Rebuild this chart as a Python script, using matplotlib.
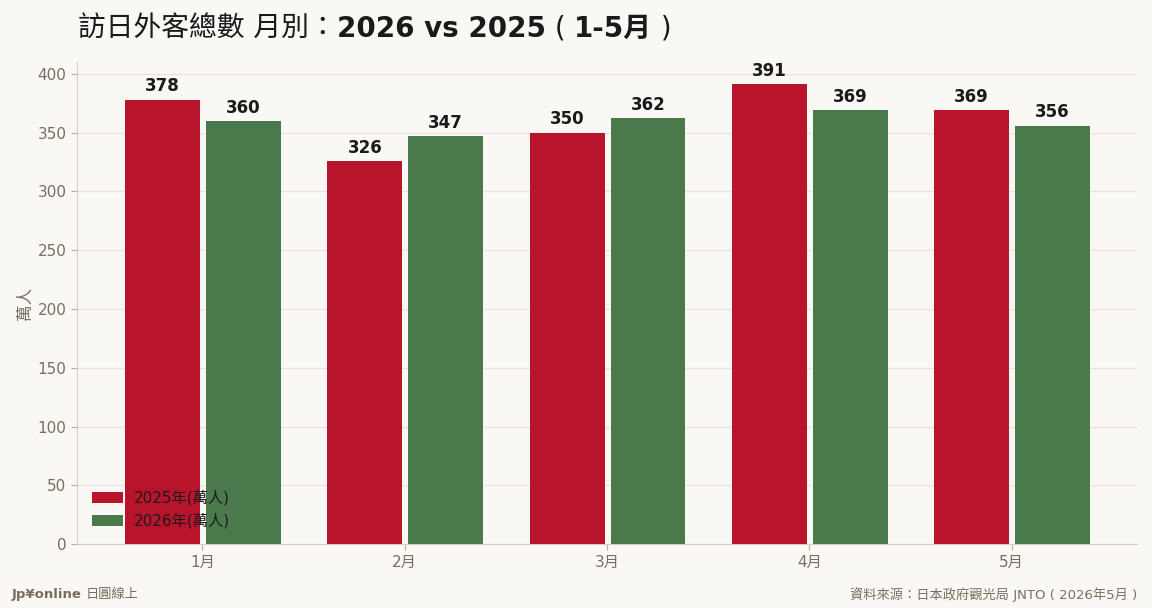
import matplotlib
matplotlib.use("Agg")
import matplotlib.pyplot as plt
import numpy as np

plt.rcParams['font.family'] = ['DejaVu Sans', 'Noto Sans CJK TC']

# data
months = ["1月", "2月", "3月", "4月", "5月"]
visitors_2025 = [378, 326, 350, 391, 369]
visitors_2026 = [360, 347, 362, 369, 356]
series_names = ["2025年(萬人)", "2026年(萬人)"]

bg = "#FAF8F5"
red = "#B8152C"
green = "#4A7A4B"
txt = "#7A6E5E"
dark = "#1A1A1A"

fig = plt.figure(figsize=(11.52, 6.08), dpi=100, facecolor=bg)
ax = fig.add_axes([0.0668, 0.105, 0.9202, 0.793])
ax.set_facecolor(bg)

x = np.arange(len(months))
w = 0.37
b1 = ax.bar(x - 0.197, visitors_2025, w, color=red, label=series_names[0], zorder=3)
b2 = ax.bar(x + 0.203, visitors_2026, w, color=green, label=series_names[1], zorder=3)

for bars in (b1, b2):
    for b in bars:
        ax.annotate(f"{b.get_height():.0f}", (b.get_x() + b.get_width() / 2, b.get_height()),
                    xytext=(0, 3), textcoords="offset points", ha="center", va="bottom",
                    fontsize=12, fontweight="bold", color=dark, zorder=4)

ax.set_xlim(-0.62, 4.62)
ax.set_ylim(0, 410)
ax.set_yticks(range(0, 401, 50))
ax.set_xticks(x)
ax.set_xticklabels(months)
ax.tick_params(axis="both", colors="#B8AE9F", labelcolor=txt, labelsize=11, length=4)
ax.grid(axis="y", color="#EEDFDA", linewidth=0.9, zorder=0)
ax.set_axisbelow(True)
for s in ["top", "right"]:
    ax.spines[s].set_visible(False)
for s in ["left", "bottom"]:
    ax.spines[s].set_color("#D8CEC2")
ax.set_ylabel("萬人", color=txt, fontsize=12, labelpad=3)

leg = ax.legend(loc="lower left", frameon=False, fontsize=11, handlelength=2.0,
                handleheight=0.8, handletextpad=0.75, borderaxespad=0.6)
for t in leg.get_texts():
    t.set_color(dark)

# title in pieces (normal / bold)
fig.canvas.draw()
r = fig.canvas.get_renderer()
pieces = [("訪日外客總數 月別：", "normal"), ("2026 vs 2025", "bold"),
          (" ( ", "normal"), ("1-5月", "bold"), (" )", "normal")]
xpos = 78 / 1152
for s, wgt in pieces:
    t = fig.text(xpos, 0.953, s, fontsize=20, fontweight=wgt, color=dark, va="center", ha="left")
    bb = t.get_window_extent(renderer=r)
    xpos += bb.width / fig.bbox.width

fig.text(12 / 1152, 0.022, "Jp¥online", fontsize=9.5, fontweight="bold", color=txt, va="center")
fig.text(86 / 1152, 0.022, "日圓線上", fontsize=9.5, color=txt, va="center")
fig.text(1137 / 1152, 0.022, "資料來源：日本政府觀光局 JNTO ( 2026年5月 )", fontsize=9.5,
         color=txt, va="center", ha="right")

fig.savefig("out.png", dpi=100, facecolor=bg)
